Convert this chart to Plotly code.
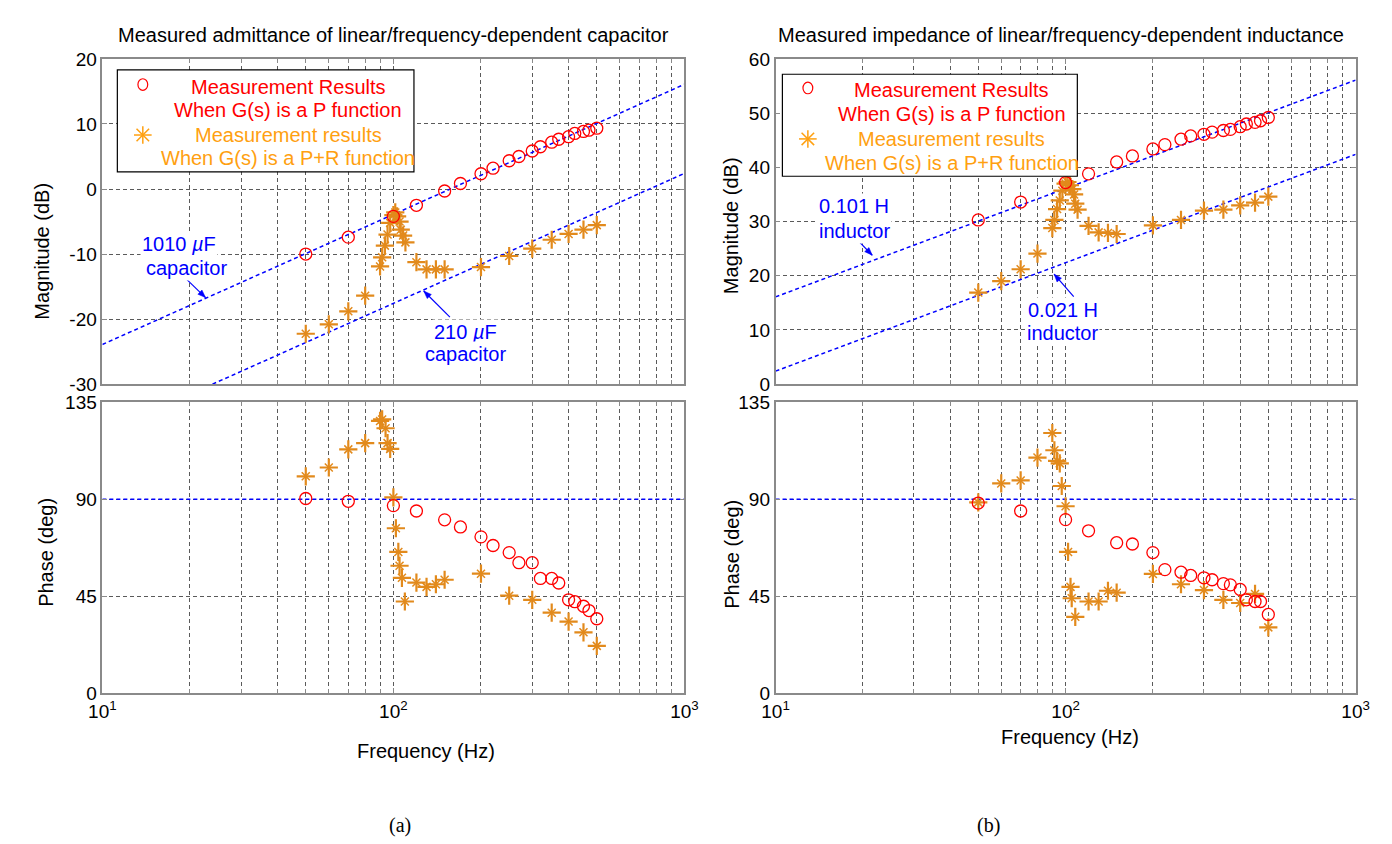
import math
import plotly.graph_objects as go

W, H = 1392, 844

# ---------------- data ----------------
# Capacitor (admittance), "P function" measurements
cap_p_freq = [50, 70, 100, 120, 150, 170, 200, 220, 250, 270, 300, 320, 350, 370, 400, 420, 450, 470, 500]
cap_p_mag = [-10.0, -7.4, -4.2, -2.5, -0.3, 0.85, 2.35, 3.2, 4.35, 5.0, 5.85, 6.5, 7.2, 7.65, 8.05, 8.55, 8.85, 9.05, 9.35]
cap_p_phase = [90.3, 89.0, 87.0, 84.5, 80.4, 77.1, 72.5, 68.5, 65.2, 60.5, 60.5, 53.2, 53.2, 51.1, 43.3, 42.4, 40.3, 38.3, 34.5]

# Capacitor, "P+R function" measurements
cap_pr_mag_freq = [50, 60, 70, 80, 90, 91.5, 93.5, 95.5, 97.5, 100, 101.5, 103, 105, 106, 108, 110,
                   120, 130, 140, 150, 200, 250, 300, 350, 400, 450, 500]
cap_pr_mag = [-22.25, -20.8, -18.8, -16.4, -11.9, -10.5, -8.7, -7.0, -5.2, -4.0, -3.6, -4.2, -5.0, -6.25, -7.15, -8.2,
              -11.25, -12.35, -12.35, -12.35, -12.0, -10.3, -9.15, -7.8, -6.9, -6.25, -5.55]
cap_pr_phase_freq = [50, 60, 70, 80, 90, 91.5, 94, 95.5, 97.5, 100, 102, 104, 105, 107, 109.5,
                     120, 130, 140, 150, 200, 250, 300, 350, 400, 450, 500]
cap_pr_phase = [100.6, 104.7, 113.1, 116.0, 126.3, 127.0, 122.9, 116.0, 113.3, 90.8, 76.5, 65.5, 59.1, 53.5, 42.5,
                51.3, 49.3, 50.5, 52.6, 55.4, 45.2, 43.3, 37.3, 33.2, 28.2, 21.9]

# Inductor (impedance), "P function" measurements
ind_p_freq = [50, 70, 100, 120, 150, 170, 200, 220, 250, 270, 300, 320, 350, 370, 400, 420, 450, 470, 500]
ind_p_mag = [30.3, 33.6, 37.2, 38.8, 41.0, 42.1, 43.4, 44.2, 45.2, 45.8, 46.1, 46.5, 46.8, 47.0, 47.5, 48.0, 48.3, 48.6, 49.2]
ind_p_phase = [88.2, 84.5, 80.5, 75.3, 69.8, 69.2, 65.2, 57.3, 56.1, 54.6, 53.5, 52.6, 50.8, 50.2, 48.1, 43.3, 42.5, 42.5, 36.5]

# Inductor, "P+R function" measurements
ind_pr_mag_freq = [50, 60, 70, 80, 90, 91.5, 93.5, 95.5, 97.5, 100, 101.5, 103.5, 105.5, 107, 108, 110,
                   120, 130, 140, 150, 200, 250, 300, 350, 400, 450, 500]
ind_pr_mag = [16.9, 19.0, 21.2, 24.1, 28.8, 30.3, 32.3, 33.9, 35.7, 37.0, 37.3, 36.7, 36.0, 35.0, 33.3, 32.2,
              29.2, 28.0, 27.9, 27.7, 29.3, 30.3, 32.0, 32.2, 33.0, 33.5, 34.6]
ind_pr_phase_freq = [50, 60, 70, 80, 90, 91.5, 93.5, 95.5, 97, 100, 102, 104, 105, 108,
                     120, 130, 140, 150, 200, 250, 300, 350, 400, 450, 500]
ind_pr_phase = [88.5, 97.3, 98.7, 109.3, 120.7, 112.7, 107.8, 106.6, 96.1, 86.7, 65.5, 49.3, 44.0, 35.4,
                42.5, 42.5, 47.5, 46.6, 55.3, 50.5, 47.8, 43.3, 41.8, 46.0, 30.5]

# Ideal reference lines (end points)
cap1010_freq = [10, 1000]
cap1010_db = [-23.9, 16.1]
cap210_freq = [23.9, 1000]
cap210_db = [-30.0, 2.4]
ind0101_freq = [10, 1000]
ind0101_db = [16.1, 56.1]
ind0021_freq = [10, 1000]
ind0021_db = [2.4, 42.4]
phase_ref_freq = [10, 1000]
phase_ref_deg = [90, 90]

# Tick labels
x_tickvals = [10, 100, 1000]
x_ticktext = ["10<sup>1</sup>", "10<sup>2</sup>", "10<sup>3</sup>"]
x_minor_vals = [20, 30, 40, 50, 60, 70, 80, 90, 200, 300, 400, 500, 600, 700, 800, 900]
cap_mag_ticks = [-30, -20, -10, 0, 10, 20]
cap_mag_ticktext = ["-30", "-20", "-10", "0", "10", "20"]
ind_mag_ticks = [0, 10, 20, 30, 40, 50, 60]
ind_mag_ticktext = ["0", "10", "20", "30", "40", "50", "60"]
phase_ticks = [0, 45, 90, 135]
phase_ticktext = ["0", "45", "90", "135"]

# ---------------- styling ----------------
FONT = "Liberation Sans, Arial, sans-serif"
FS = 20
TFS = 19
RED = "#ff0000"
ORANGE = "rgb(226,138,28)"
ORANGE_TXT = "#ffa010"
BLUE = "#0000ff"
GRID = "#5a5a5a"
FRAME = "#8a8a8a"


def px(x):
    return x / W


def py(y):
    return 1 - y / H


fig = go.Figure()


def add_set(xa, ya, p_f, p_v, pr_f, pr_v):
    fig.add_trace(go.Scatter(x=pr_f, y=pr_v, mode="markers", xaxis=xa, yaxis=ya,
                             marker=dict(symbol="cross-thin-open", size=13, color=ORANGE,
                                         line=dict(color=ORANGE, width=2.2))))
    fig.add_trace(go.Scatter(x=pr_f, y=pr_v, mode="markers", xaxis=xa, yaxis=ya,
                             marker=dict(symbol="x-thin-open", size=8, color=ORANGE,
                                         line=dict(color=ORANGE, width=1.5))))
    fig.add_trace(go.Scatter(x=p_f, y=p_v, mode="markers", xaxis=xa, yaxis=ya,
                             marker=dict(symbol="circle-open", size=12, color=RED,
                                         line=dict(color=RED, width=1.3))))


def add_line(xa, ya, f, v):
    fig.add_trace(go.Scatter(x=f, y=v, mode="lines", xaxis=xa, yaxis=ya,
                             line=dict(color=BLUE, width=1.5, dash="4px,3px")))


# left magnitude
add_line("x", "y", cap1010_freq, cap1010_db)
add_line("x", "y", cap210_freq, cap210_db)
add_set("x", "y", cap_p_freq, cap_p_mag, cap_pr_mag_freq, cap_pr_mag)
# left phase
add_line("x2", "y2", phase_ref_freq, phase_ref_deg)
add_set("x2", "y2", cap_p_freq, cap_p_phase, cap_pr_phase_freq, cap_pr_phase)
# right magnitude
add_line("x3", "y3", ind0101_freq, ind0101_db)
add_line("x3", "y3", ind0021_freq, ind0021_db)
add_set("x3", "y3", ind_p_freq, ind_p_mag, ind_pr_mag_freq, ind_pr_mag)
# right phase
add_line("x4", "y4", phase_ref_freq, phase_ref_deg)
add_set("x4", "y4", ind_p_freq, ind_p_phase, ind_pr_phase_freq, ind_pr_phase)


def xaxis(dom, anchor, labels):
    return dict(type="log", range=[1, 3], domain=dom, anchor=anchor,
                tickvals=x_tickvals, ticktext=x_ticktext, showticklabels=labels,
                tickfont=dict(family=FONT, size=TFS, color="black"),
                ticks="inside", ticklen=5, tickcolor=FRAME,
                showline=True, linecolor=FRAME, linewidth=1.5, mirror="ticks",
                showgrid=True, gridcolor=GRID, griddash="4px,3px", gridwidth=1,
                minor=dict(tickvals=x_minor_vals, ticks="inside", ticklen=4, tickcolor=FRAME,
                           showgrid=True, gridcolor=GRID, griddash="4px,3px", gridwidth=1),
                zeroline=False)


def yaxis(dom, anchor, rng, tv, tt):
    return dict(range=rng, domain=dom, anchor=anchor, tickvals=tv, ticktext=tt,
                tickfont=dict(family=FONT, size=TFS, color="black"),
                ticks="inside", ticklen=5, tickcolor=FRAME,
                showline=True, linecolor=FRAME, linewidth=1.5, mirror="ticks",
                showgrid=True, gridcolor=GRID, griddash="4px,3px", gridwidth=1,
                zeroline=False)


LX = [px(82), px(676)]
RX = [px(769), px(1361)]
MAGY = [py(375.5), py(42)]
PHY = [py(692.3), py(394)]

layout = dict(
    width=W, height=H, margin=dict(l=0, r=0, t=0, b=0),
    paper_bgcolor="white", plot_bgcolor="white", showlegend=False,
    font=dict(family=FONT, size=FS, color="black"),
    xaxis=xaxis(LX, "y", False),
    yaxis=yaxis(MAGY, "x", [-30, 20], cap_mag_ticks, cap_mag_ticktext),
    xaxis2=xaxis(LX, "y2", True),
    yaxis2=yaxis(PHY, "x2", [0, 135], phase_ticks, phase_ticktext),
    xaxis3=xaxis(RX, "y3", False),
    yaxis3=yaxis(MAGY, "x3", [0, 60], ind_mag_ticks, ind_mag_ticktext),
    xaxis4=xaxis(RX, "y4", True),
    yaxis4=yaxis(PHY, "x4", [0, 135], phase_ticks, phase_ticktext),
)
fig.update_layout(**layout)

ann = []
shapes = []


def text(x, y, s, color="black", size=FS, angle=0, family=FONT, bg=None):
    d = dict(x=px(x), y=py(y), xref="paper", yref="paper", text=s, showarrow=False,
             xanchor="center", yanchor="middle", textangle=angle,
             font=dict(family=family, size=size, color=color))
    if bg:
        d.update(bgcolor=bg, borderpad=1)
    ann.append(d)


def arrow(x_head, y_head, x_tail, y_tail):
    # shaft
    shapes.append(dict(type="line", xref="paper", yref="paper",
                       x0=px(x_tail), y0=py(y_tail), x1=px(x_head), y1=py(y_head),
                       line=dict(color=BLUE, width=1.2), layer="above"))
    # head (filled triangle)
    dx, dy = x_head - x_tail, y_head - y_tail
    n = math.hypot(dx, dy)
    ux, uy = dx / n, dy / n
    L, hw = 8, 3
    bx, by = x_head - ux * L, y_head - uy * L
    p1 = (bx - uy * hw, by + ux * hw)
    p2 = (bx + uy * hw, by - ux * hw)
    path = "M {} {} L {} {} L {} {} Z".format(px(x_head), py(y_head), px(p1[0]), py(p1[1]),
                                               px(p2[0]), py(p2[1]))
    shapes.append(dict(type="path", xref="paper", yref="paper", path=path,
                       fillcolor=BLUE, line=dict(color=BLUE, width=0.5), layer="above"))


# titles
text(379, 17, "Measured admittance of linear/frequency-dependent capacitor")
text(1060, 17, "Measured impedance of linear/frequency-dependent inductance")
# axis titles
text(20, 239, "Magnitude (dB)", angle=-90)
text(25, 548, "Phase (deg)", angle=-90)
text(723, 213, "Magnitude (dB)", angle=-90)
text(725, 550, "Phase (deg)", angle=-90)
text(412, 752, "Frequency (Hz)")
text(1070, 737, "Frequency (Hz)")
# sub-figure labels
text(386, 828, "(a)", family="Liberation Serif, Times New Roman, serif")
text(986, 828, "(b)", family="Liberation Serif, Times New Roman, serif")

# line labels
text(160, 232, "1010 <i>µ</i>F", color=BLUE, bg="white")
text(168, 256, "capacitor", color=BLUE, bg="white")
arrow(187.3, 286.7, 167.3, 267.3)
text(453, 322, "210 <i>µ</i>F", color=BLUE, bg="white")
text(453, 345, "capacitor", color=BLUE, bg="white")
arrow(410, 280, 436.7, 306.7)
text(849, 193, "0.101 H", color=BLUE, bg="white")
text(850, 218, "inductor", color=BLUE, bg="white")
arrow(867.7, 243.3, 854.3, 229.3)
text(1062, 299, "0.021 H", color=BLUE, bg="white")
text(1062, 323, "inductor", color=BLUE, bg="white")
arrow(1053.3, 262.7, 1073.3, 285.7)


# legends
def legend(x0, y0, x1, y1, cx_sym, cy_circ, cy_star, cx_txt, ys):
    shapes.append(dict(type="rect", xref="paper", yref="paper", x0=px(x0), x1=px(x1), y0=py(y1), y1=py(y0),
                       fillcolor="white", line=dict(color="black", width=1.2), layer="above"))
    r = 6
    shapes.append(dict(type="circle", xref="paper", yref="paper", x0=px(cx_sym - r + 1), x1=px(cx_sym + r - 1),
                       y0=py(cy_circ + r), y1=py(cy_circ - r), line=dict(color=RED, width=1.2), layer="above"))
    s = 9
    d = 6.4
    for (ax0, ay0, ax1, ay1) in [(-s, 0, s, 0), (0, -s, 0, s), (-d, -d, d, d), (-d, d, d, -d)]:
        shapes.append(dict(type="line", xref="paper", yref="paper",
                           x0=px(cx_sym + ax0), x1=px(cx_sym + ax1), y0=py(cy_star + ay0), y1=py(cy_star + ay1),
                           line=dict(color=ORANGE_TXT, width=1.5), layer="above"))
    text(cx_txt, ys[0], "Measurement Results", color=RED)
    text(cx_txt, ys[1], "When G(s) is a P function", color=RED)
    text(cx_txt, ys[2], "Measurement results", color=ORANGE_TXT)
    text(cx_txt, ys[3], "When G(s) is a P+R function", color=ORANGE_TXT)


legend(97.3, 53.3, 400, 157.7, 123.3, 68.3, 120, 271.5, [71, 94, 120, 144])
legend(776, 57.7, 1077, 162.3, 802, 71.7, 124, 949, [74, 98.7, 124.3, 148.3])

fig.update_layout(annotations=ann, shapes=shapes)
fig.write_html("out.html")
